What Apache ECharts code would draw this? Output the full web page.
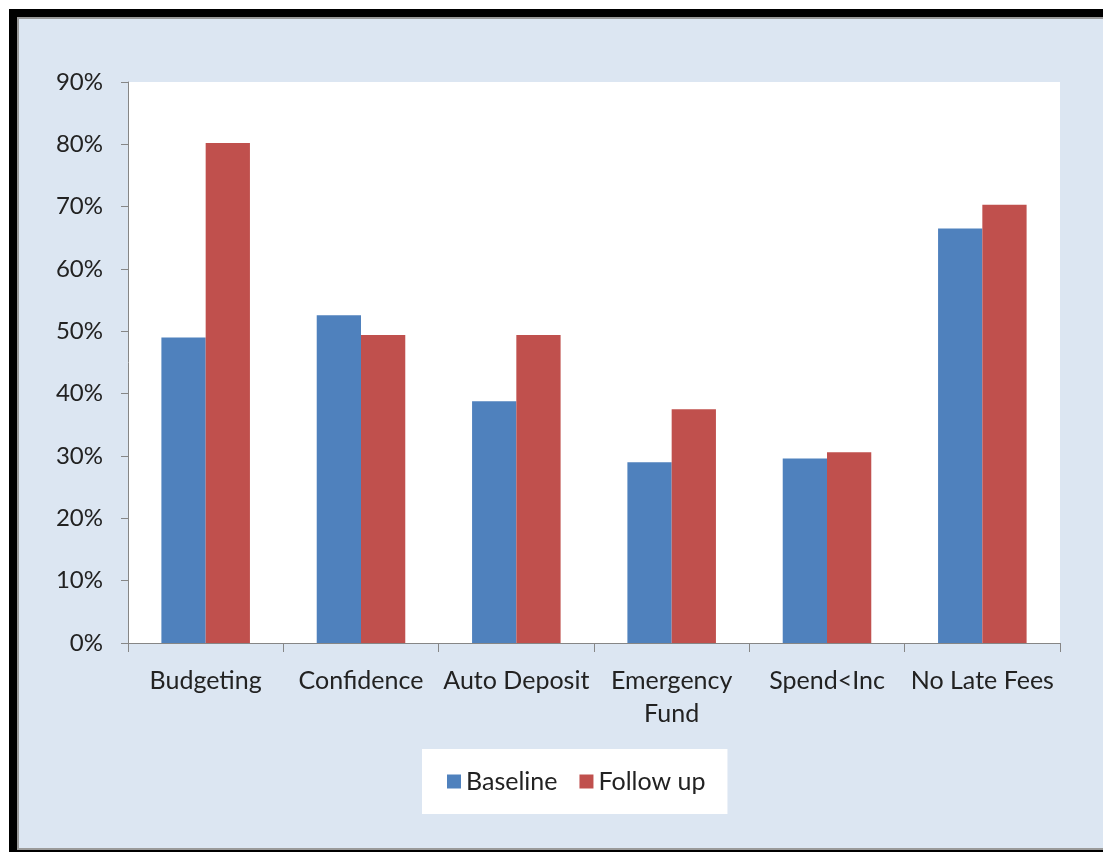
<!DOCTYPE html>
<html>
<head>
<meta charset="utf-8">
<script src="https://cdn.jsdelivr.net/npm/echarts@6/dist/echarts.min.js"></script>
<style>
  html, body { margin: 0; padding: 0; background: #ffffff; width: 1103px; height: 852px; overflow: hidden; }
  #black { position: absolute; left: 9px; top: 9px; width: 1094px; height: 843px; background: #000000; }
  #panel { position: absolute; left: 17px; top: 17px; width: 1084px; height: 829px; background: #dce6f2; border: 2px solid #9a9a9a; }
  #chart { position: absolute; left: 0; top: 0; width: 1103px; height: 852px; }
</style>
</head>
<body>
<div id="black"></div>
<div id="panel"></div>
<div id="chart"></div>
<script>
const categories = ['Budgeting', 'Confidence', 'Auto Deposit', 'Emergency\nFund', 'Spend<Inc', 'No Late Fees'];
const baseline = [49.0, 52.6, 38.8, 29.0, 29.6, 66.5];
const followUp = [80.2, 49.4, 49.4, 37.5, 30.6, 70.3];
const seriesNames = ['Baseline', 'Follow up'];

const FONT = 'Lato';
const chart = echarts.init(document.getElementById('chart'), null, { renderer: 'canvas' });
chart.setOption({
  animation: false,
  backgroundColor: 'transparent',
  textStyle: { fontFamily: FONT },
  grid: { left: 128, right: 43, top: 82, bottom: 209, show: true, backgroundColor: '#ffffff', borderWidth: 0 },
  legend: {
    data: seriesNames,
    left: 422, top: 749,
    padding: [20, 22, 20, 25],
    backgroundColor: '#ffffff',
    itemWidth: 14, itemHeight: 14, itemGap: 22,
    icon: 'rect',
    textStyle: { fontFamily: FONT, fontSize: 25, color: '#222222' }
  },
  xAxis: {
    type: 'category',
    data: categories,
    axisLine: { lineStyle: { color: '#868686', width: 1 } },
    axisTick: { show: true, length: 9, lineStyle: { color: '#868686' } },
    axisLabel: { interval: 0, margin: 21, fontFamily: FONT, fontSize: 25, color: '#222222', lineHeight: 33 }
  },
  yAxis: {
    type: 'value',
    min: 0, max: 90, interval: 10,
    splitLine: { show: false },
    axisLine: { show: true, lineStyle: { color: '#868686', width: 1 } },
    axisTick: { show: true, length: 7, lineStyle: { color: '#868686' } },
    axisLabel: { formatter: '{value}%', margin: 25, fontFamily: FONT, fontSize: 24, color: '#222222' }
  },
  series: [
    { name: seriesNames[0], type: 'bar', data: baseline, barGap: '0%', barCategoryGap: '43%', itemStyle: { color: '#4f81bd' } },
    { name: seriesNames[1], type: 'bar', data: followUp, barGap: '0%', barCategoryGap: '43%', itemStyle: { color: '#c0504d' } }
  ]
});
</script>
</body>
</html>
